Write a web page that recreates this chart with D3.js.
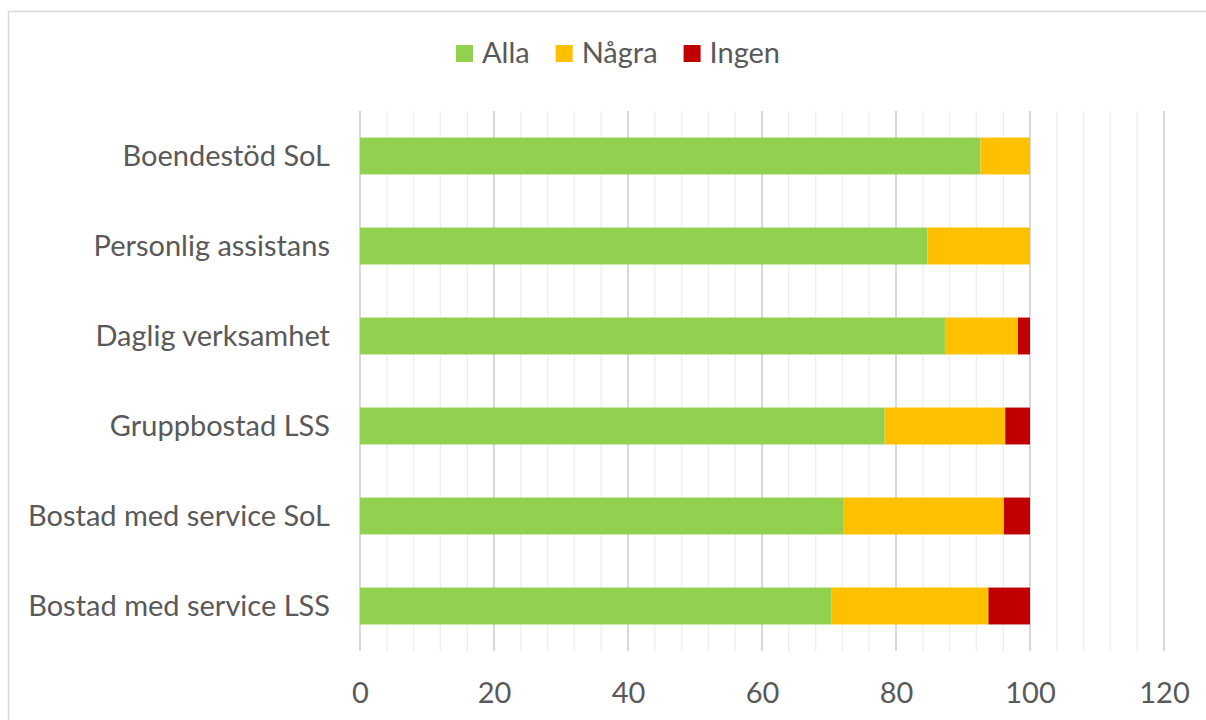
<!DOCTYPE html>
<html>
<head>
<meta charset="utf-8">
<script src="https://cdn.jsdelivr.net/npm/d3@7"></script>
<style>
  html, body { margin: 0; padding: 0; background: #fff; }
  svg { display: block; }
  text { font-family: Lato, "Open Sans", sans-serif; fill: #595959; }
</style>
</head>
<body>
<svg id="chart" width="1206" height="720"></svg>
<script>
// Categories, top to bottom
const categories = [
  "Boendestöd SoL",
  "Personlig assistans",
  "Daglig verksamhet",
  "Gruppbostad LSS",
  "Bostad med service SoL",
  "Bostad med service LSS"
];
// Share (%) per category for each answer
const alla  = [92.6, 84.7, 87.3, 78.3, 72.1, 70.4];
const nagra = [7.4, 15.3, 10.9, 18.0, 24.0, 23.4];
const ingen = [0.0, 0.0, 1.8, 3.7, 3.9, 6.2];

const seriesNames = ["Alla", "Några", "Ingen"];
const seriesColors = ["#92D050", "#FFC000", "#C00000"];
const xTicks = [0, 20, 40, 60, 80, 100, 120];

const svg = d3.select("#chart");

// chart frame
svg.append("rect")
  .attr("x", 8.5).attr("y", 11.5)
  .attr("width", 1240).attr("height", 740)
  .attr("fill", "#fff")
  .attr("stroke", "#d9d9d9").attr("stroke-width", 1.5);

const x = d3.scaleLinear().domain([0, 120]).range([360, 1164]);
const y = d3.scaleBand().domain(categories).range([111, 651])
  .paddingInner(0.59).paddingOuter(0.295);

// minor gridlines every 4
const minor = d3.range(0, 121, 4).filter(v => v % 20 !== 0);
svg.append("g").selectAll("line").data(minor).join("line")
  .attr("x1", d => x(d)).attr("x2", d => x(d))
  .attr("y1", 111).attr("y2", 651)
  .attr("stroke", "#f0f0f0").attr("stroke-width", 1.5);

// major gridlines every 20
svg.append("g").selectAll("line").data(xTicks).join("line")
  .attr("x1", d => x(d)).attr("x2", d => x(d))
  .attr("y1", 111).attr("y2", 651)
  .attr("stroke", "#d9d9d9").attr("stroke-width", 2);

// stacked bars
const rows = categories.map((c, i) => ({ cat: c, Alla: alla[i], "Några": nagra[i], Ingen: ingen[i] }));
const stacked = d3.stack().keys(seriesNames)(rows);
const color = d3.scaleOrdinal().domain(seriesNames).range(seriesColors);

svg.append("g").selectAll("g").data(stacked).join("g")
  .attr("fill", d => color(d.key))
  .selectAll("rect").data(d => d).join("rect")
  .attr("x", d => x(d[0]))
  .attr("width", d => Math.max(0, x(d[1]) - x(d[0])))
  .attr("y", d => y(d.data.cat))
  .attr("height", y.bandwidth());

// x axis labels
const xAxis = d3.axisBottom(x).tickValues(xTicks).tickSize(0).tickPadding(0);
const gx = svg.append("g").attr("transform", "translate(0,680)").call(xAxis);
gx.select(".domain").remove();
gx.selectAll("text")
  .attr("dy", null)
  .attr("y", 23)
  .style("font-size", "29px")
  .style("font-family", "Lato, 'Open Sans', sans-serif")
  .attr("fill", "#595959");

// category labels
const yAxis = d3.axisLeft(y).tickSize(0).tickPadding(0);
const gy = svg.append("g").attr("transform", "translate(330,0)").call(yAxis);
gy.select(".domain").remove();
gy.selectAll("text")
  .attr("dy", "0.35em")
  .style("font-size", "29px")
  .style("font-family", "Lato, 'Open Sans', sans-serif")
  .attr("fill", "#595959");

// legend
const legend = svg.append("g");
const items = legend.selectAll("g").data(seriesNames).join("g");
items.append("rect")
  .attr("width", 17).attr("height", 17)
  .attr("y", 45)
  .attr("fill", d => color(d));
items.append("text")
  .attr("x", 26).attr("y", 63)
  .style("font-size", "29px")
  .text(d => d);
const widths = [];
items.each(function() {
  widths.push(this.getBBox().width);
});
const gap = 26;
const total = d3.sum(widths) + gap * (widths.length - 1);
let cursor = 618 - total / 2;
items.each(function(d, i) {
  d3.select(this).attr("transform", `translate(${cursor},0)`);
  cursor += widths[i] + gap;
});
</script>
</body>
</html>
